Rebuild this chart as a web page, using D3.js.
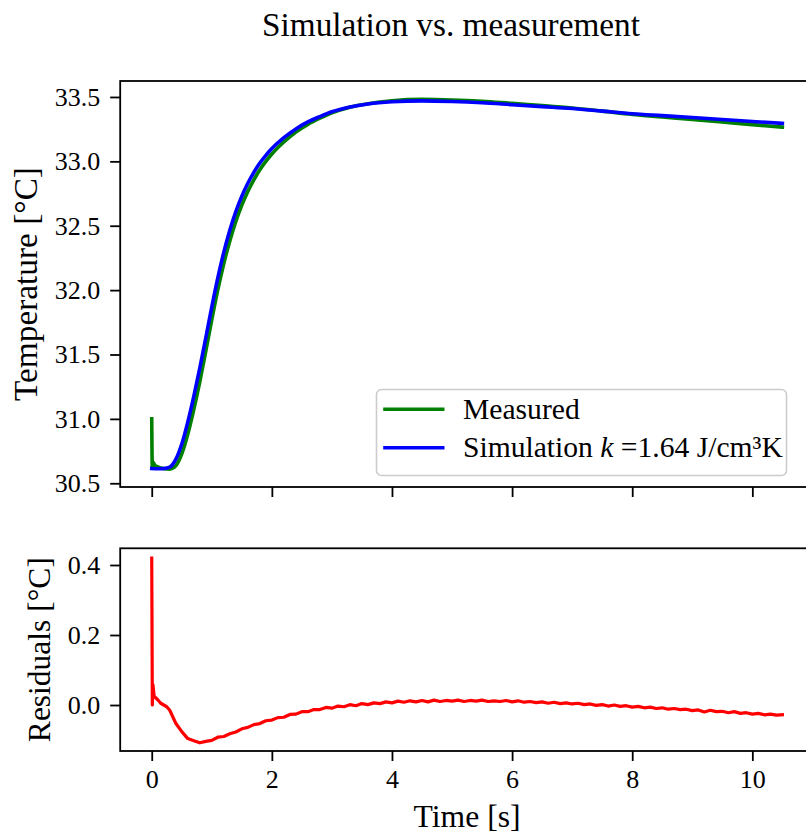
<!DOCTYPE html>
<html><head><meta charset="utf-8">
<script src="https://cdn.jsdelivr.net/npm/d3@7"></script>
<style>
body{margin:0;background:#fff}
svg{display:block}
text{font-family:"Liberation Serif","Times New Roman",serif;fill:#000}
</style>
</head><body><svg id="c" width="806" height="838"></svg>
<script>
// ---- data ----
const simTime = [0,0.1,0.2,0.3,0.4,0.5,0.6,0.7,0.8,0.9,1.0,1.1,1.2,1.3,1.4,1.5,1.6,1.7,1.8,1.9,2.0,2.2,2.4,2.6,2.8,3.0,3.3,3.6,4.0,4.5,5.0,5.5,6.0,6.5,7.0,7.5,8.0,8.5,9.0,9.5,10.0,10.5];
const simTemp = [30.615,30.613,30.614,30.625,30.685,30.805,30.975,31.175,31.395,31.63,31.87,32.095,32.295,32.465,32.61,32.73,32.83,32.915,32.987,33.047,33.099,33.184,33.252,33.306,33.348,33.385,33.422,33.446,33.463,33.47,33.465,33.455,33.44,33.425,33.41,33.39,33.37,33.355,33.34,33.325,33.31,33.295];

const measTime = [0,0.01,0.02,0.05,0.1,0.2,0.3,0.4,0.5,0.6,0.7,0.8,0.9,1.0,1.1,1.2,1.3,1.4,1.5,1.6,1.7,1.8,1.9,2.0,2.2,2.4,2.6,2.8,3.0,3.3,3.6,4.0,4.5,5.0,5.5,6.0,6.5,7.0,7.5,8.0,8.5,9.0,9.5,10.0,10.5];
const measTemp = [31.0,30.615,30.665,30.64,30.628,30.614,30.61,30.635,30.728,30.88,31.072,31.288,31.525,31.77,32.001,32.206,32.382,32.534,32.661,32.767,32.857,32.935,33.0,33.057,33.15,33.227,33.287,33.335,33.377,33.421,33.448,33.471,33.481,33.477,33.467,33.45,33.433,33.414,33.39,33.365,33.345,33.325,33.305,33.285,33.266];

const resTime = [0,0.01,0.02,0.04,0.1,0.15,0.2,0.25,0.3,0.4,0.5,0.6,0.7,0.8,0.9,1.0,1.1,1.2,1.3,1.4,1.5,1.6,1.7,1.8,1.9,2.0,2.1,2.2,2.3,2.4,2.5,2.6,2.7,2.8,2.9,3.0,3.1,3.2,3.3,3.4,3.5,3.6,3.7,3.8,3.9,4.0,4.1,4.2,4.3,4.4,4.5,4.6,4.7,4.8,4.9,5.0,5.1,5.2,5.3,5.4,5.5,5.6,5.7,5.8,5.9,6.0,6.1,6.2,6.3,6.4,6.5,6.6,6.7,6.8,6.9,7.0,7.1,7.2,7.3,7.4,7.5,7.6,7.7,7.8,7.9,8.0,8.1,8.2,8.3,8.4,8.5,8.6,8.7,8.8,8.9,9.0,9.1,9.2,9.3,9.4,9.5,9.6,9.7,9.8,9.9,10.0,10.1,10.2,10.3,10.4,10.5];
const resValue = [0.42,0.0,0.058,0.025,0.015,0.005,0.0,-0.005,-0.015,-0.052,-0.076,-0.096,-0.102,-0.108,-0.104,-0.101,-0.092,-0.090,-0.082,-0.077,-0.068,-0.064,-0.056,-0.053,-0.045,-0.043,-0.036,-0.035,-0.027,-0.026,-0.019,-0.019,-0.013,-0.013,-0.007,-0.009,-0.003,-0.005,0.001,-0.002,0.004,0.001,0.006,0.004,0.009,0.006,0.011,0.008,0.012,0.009,0.013,0.009,0.014,0.010,0.013,0.011,0.014,0.010,0.013,0.011,0.014,0.010,0.012,0.010,0.013,0.009,0.012,0.008,0.010,0.007,0.009,0.005,0.008,0.004,0.006,0.003,0.005,0.001,0.003,-0.001,0.001,-0.003,0.000,-0.004,-0.002,-0.006,-0.004,-0.008,-0.006,-0.010,-0.008,-0.012,-0.010,-0.013,-0.012,-0.016,-0.014,-0.020,-0.015,-0.019,-0.018,-0.022,-0.019,-0.024,-0.022,-0.026,-0.024,-0.028,-0.026,-0.029,-0.028];

const xTicks = [0,2,4,6,8,10];
const tempTicks = [30.5,31.0,31.5,32.0,32.5,33.0,33.5];
const resTicks = [0.0,0.2,0.4];
const titleText = "Simulation vs. measurement";
const xLabel = "Time [s]";
const tempLabel = "Temperature [°C]";
const resLabel = "Residuals [°C]";
const seriesNames = ["Measured", "Simulation"];

// ---- layout ----
const FONT = '"Liberation Serif", "Times New Roman", serif';
const svg = d3.select("#c");
const L = 120.2, R = 813.9;
const top1 = 81, bot1 = 487, top2 = 548.3, bot2 = 751;

const x = d3.scaleLinear().domain([-0.525, 11.025]).range([L, R]);
const yT = d3.scaleLinear().domain([30.471, 33.624]).range([bot1, top1]);
const yR = d3.scaleLinear().domain([-0.1314, 0.4477]).range([bot2, top2]);

function fit(sel, w) {
  const l = sel.node().getComputedTextLength();
  const fs = parseFloat(sel.attr("font-size"));
  sel.attr("font-size", fs * w / l);
}

function styleAxis(g) {
  g.attr("font-family", null).attr("font-size", null);
  g.select(".domain").remove();
  g.selectAll(".tick line").attr("stroke", "#000").attr("stroke-width", 1.8);
  g.selectAll(".tick text").style("font-family", FONT).style("font-size", "26px").attr("fill", "#000");
}

// top axes
svg.append("g").attr("transform", `translate(${L},0)`)
  .call(d3.axisLeft(yT).tickValues(tempTicks).tickFormat(d3.format(".1f")).tickSize(10).tickPadding(10))
  .call(styleAxis);
svg.append("g").attr("transform", `translate(0,${bot1})`)
  .call(d3.axisBottom(x).tickValues(xTicks).tickFormat("").tickSize(10))
  .call(styleAxis);

// bottom axes
svg.append("g").attr("transform", `translate(${L},0)`)
  .call(d3.axisLeft(yR).tickValues(resTicks).tickFormat(d3.format(".1f")).tickSize(10).tickPadding(10))
  .call(styleAxis);
svg.append("g").attr("transform", `translate(0,${bot2})`)
  .call(d3.axisBottom(x).tickValues(xTicks).tickFormat(d3.format("d")).tickSize(10).tickPadding(9))
  .call(styleAxis);

// clip paths
const defs = svg.append("defs");
defs.append("clipPath").attr("id", "cp1").append("rect").attr("x", L).attr("y", top1).attr("width", R - L).attr("height", bot1 - top1);
defs.append("clipPath").attr("id", "cp2").append("rect").attr("x", L).attr("y", top2).attr("width", R - L).attr("height", bot2 - top2);

const measLine = d3.line().x((d, i) => x(measTime[i])).y(d => yT(d)).curve(d3.curveMonotoneX);
const simLine = d3.line().x((d, i) => x(simTime[i])).y(d => yT(d)).curve(d3.curveMonotoneX);
const resLine = d3.line().x((d, i) => x(resTime[i])).y(d => yR(d));

svg.append("path").attr("clip-path", "url(#cp1)").attr("d", measLine(measTemp))
  .attr("fill", "none").attr("stroke", "#008000").attr("stroke-width", 3.6)
  .attr("stroke-linejoin", "round").attr("stroke-linecap", "square");
svg.append("path").attr("clip-path", "url(#cp1)").attr("d", simLine(simTemp))
  .attr("fill", "none").attr("stroke", "#0000ff").attr("stroke-width", 3.6)
  .attr("stroke-linejoin", "round").attr("stroke-linecap", "square");
svg.append("path").attr("clip-path", "url(#cp2)").attr("d", resLine(resValue))
  .attr("fill", "none").attr("stroke", "#ff0000").attr("stroke-width", 3.2)
  .attr("stroke-linejoin", "round").attr("stroke-linecap", "square");

// spines
[[top1, bot1], [top2, bot2]].forEach(([t, b]) => {
  svg.append("rect").attr("x", L).attr("y", t).attr("width", R - L).attr("height", b - t)
    .attr("fill", "none").attr("stroke", "#000").attr("stroke-width", 1.8);
});

// legend
const lg = svg.append("g");
lg.append("rect").attr("x", 376.5).attr("y", 389.5).attr("width", 410).attr("height", 86).attr("rx", 5)
  .attr("fill", "#fff").attr("fill-opacity", 0.8).attr("stroke", "#cccccc").attr("stroke-width", 1.6);
const legItems = [
  {name: seriesNames[0], color: "#008000", y: 409.3},
  {name: seriesNames[1], color: "#0000ff", y: 447.7}
];
legItems.forEach(it => {
  lg.append("line").attr("x1", 385).attr("x2", 442.7).attr("y1", it.y).attr("y2", it.y)
    .attr("stroke", it.color).attr("stroke-width", 3.6).attr("stroke-linecap", "square");
});
const t1 = lg.append("text").attr("x", 463).attr("y", 419).attr("font-size", 26).text(seriesNames[0]);
const t2 = lg.append("text").attr("x", 463).attr("y", 456.7).attr("font-size", 26);
t2.append("tspan").text(seriesNames[1] + " ");
t2.append("tspan").attr("font-style", "italic").text("k");
t2.append("tspan").text(" =1.64 J/cm³K");
fit(t2, 320);
t1.attr("font-size", t2.attr("font-size"));

// titles and labels
const title = svg.append("text").attr("x", 451).attr("y", 36).attr("text-anchor", "middle").attr("font-size", 31).text(titleText);
fit(title, 378);
const xl = svg.append("text").attr("x", (L + R) / 2).attr("y", 827).attr("text-anchor", "middle").attr("font-size", 30).text(xLabel);
fit(xl, 107);
const yl1 = svg.append("text").attr("transform", `translate(37,${(top1 + bot1) / 2}) rotate(-90)`).attr("text-anchor", "middle").attr("font-size", 30).text(tempLabel);
fit(yl1, 234);
const yl2 = svg.append("text").attr("transform", `translate(50,${(top2 + bot2) / 2}) rotate(-90)`).attr("text-anchor", "middle").attr("font-size", 30).text(resLabel);
fit(yl2, 185);
</script>
</body></html>
